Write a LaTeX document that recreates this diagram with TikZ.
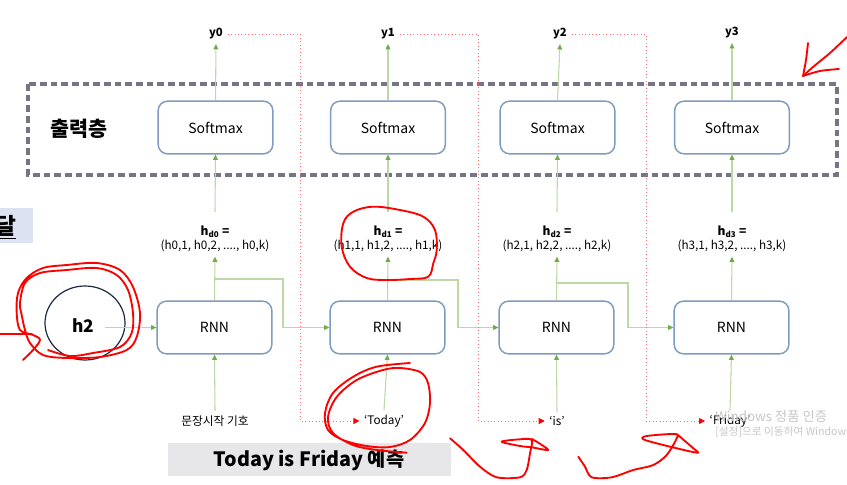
\documentclass[tikz,border=0pt]{standalone}
\usepackage{fontspec}
\setmainfont{Noto Sans CJK KR}
\usetikzlibrary{arrows.meta}
\definecolor{boxb}{HTML}{7E9BC0}
\definecolor{gline}{HTML}{BCD8A6}
\definecolor{garrow}{HTML}{70AD47}
\definecolor{rdot}{HTML}{FF6F73}
\definecolor{dashc}{HTML}{757585}
\definecolor{hand}{HTML}{FF0000}
\definecolor{ellb}{HTML}{1F2A44}
\definecolor{graybox}{HTML}{E7E6E8}
\definecolor{bluebox}{HTML}{DCE2F2}
\tikzset{
  cell/.style={draw=boxb, line width=1.1pt, rounded corners=7pt, minimum width=86pt, minimum height=39.5pt, fill=white, font=\fontsize{10.5}{12}\selectfont},
  garr/.style={draw=gline, line width=0.8pt, -{Triangle[length=4pt,width=3.6pt,color=garrow]}},
  rarr/.style={draw=rdot, line width=0.6pt, dotted, -{Triangle[length=4.5pt,width=4.5pt,color=hand]}},
  ylab/.style={font=\bfseries\fontsize{8.5}{10}\selectfont},
  hdt/.style={font=\bfseries\fontsize{9}{10}\selectfont},
  hdv/.style={font=\fontsize{8.8}{10}\selectfont},
  inlab/.style={font=\fontsize{8.8}{10}\selectfont},
  handline/.style={draw=hand, line width=1.4pt, line cap=round, line join=round},
}
\begin{document}
\begin{tikzpicture}[x=0.75pt,y=-0.75pt]
\useasboundingbox (0,0) rectangle (847,485);
\clip (0,0) rectangle (847,485);
\fill[white] (0,0) rectangle (847,485);

% side label box
\fill[bluebox] (0,208) rectangle (33,243);
\node[font=\bfseries\fontsize{17}{19}\selectfont, inner sep=0pt] (dal) at (6,227) {\underline{달}};

% dashed output layer
\draw[dashc, line width=2.3pt, dash pattern=on 5pt off 3pt] (28,84) rectangle (837,175);
\node[font=\bfseries\fontsize{15.5}{17}\selectfont] (outl) at (79,129) {출력층};

% softmax boxes
\node[cell] (s0) at (215.5,127.5) {Softmax};
\node[cell] (s1) at (388,127.5) {Softmax};
\node[cell] (s2) at (557.5,127.5) {Softmax};
\node[cell] (s3) at (732,127.5) {Softmax};

% RNN boxes
\node[cell] (r0) at (214.5,327.5) {RNN};
\node[cell] (r1) at (387.5,327.5) {RNN};
\node[cell] (r2) at (556.5,327.5) {RNN};
\node[cell] (r3) at (731.5,327.5) {RNN};

% outputs
\node[ylab] (y0) at (216,34) {y0};
\node[ylab] (y1) at (388,34) {y1};
\node[ylab] (y2) at (560,34) {y2};
\node[ylab] (y3) at (732,33) {y3};

% hidden labels
\node[hdt] (ht0) at (215,232) {h\textsubscript{d0} =};
\node[hdt] (ht1) at (388,232) {h\textsubscript{d1} =};
\node[hdt] (ht2) at (557,232) {h\textsubscript{d2} =};
\node[hdt] (ht3) at (732,232) {h\textsubscript{d3} =};
\node[hdv] (hv0) at (215,246) {(h0,1, h0,2, ...., h0,k)};
\node[hdv] (hv1) at (388,246) {(h1,1, h1,2, ...., h1,k)};
\node[hdv] (hv2) at (557,246) {(h2,1, h2,2, ...., h2,k)};
\node[hdv] (hv3) at (732,246) {(h3,1, h3,2, ...., h3,k)};

% inputs
\node[inlab] (in0) at (215,421) {문장시작 기호};
\node[inlab] (in1) at (384,421) {‘Today’};
\node[inlab] (in2) at (557,421) {‘is’};
\node[inlab] (in3) at (730,421) {‘Friday’};

% h2 ellipse
\draw[ellb, line width=0.9pt] (85,323) ellipse [x radius=40, y radius=37];
\node[font=\bfseries\fontsize{13}{15}\selectfont] (h2) at (83,326) {h2};
\coordinate (h2s) at (105,327.5);

% green arrows
\foreach \i in {0,1,2,3}{
  \draw[garr] (s\i.north) -- (y\i.south);
  \draw[garr] ([yshift=7pt]ht\i.north) -- (s\i.south);
  \draw[garr] (r\i.north) -- (hv\i.south);
  \draw[garr] (in\i.north) -- (r\i.south);
}
\draw[garr] (h2s) -- (r0.west);
\coordinate (b0) at (214.5,279); \coordinate (k0) at (283,279);
\coordinate (b1) at (387.5,280); \coordinate (k1) at (458,280);
\coordinate (b2) at (556.5,283); \coordinate (k2) at (628,283);
\draw[garr] (b0) -- (k0) |- (r1.west);
\draw[garr] (b1) -- (k1) |- (r2.west);
\draw[garr] (b2) -- (k2) |- (r3.west);

% red dotted feedback
\coordinate (c0) at (300,34); \coordinate (c1) at (478,34); \coordinate (c2) at (646,34);
\draw[rarr] (y0.east) -- (c0) |- (in1.west);
\draw[rarr] (y1.east) -- (c1) |- (in2.west);
\draw[rarr] (y2.east) -- (c2) |- (in3.west);

% bottom banner
\fill[graybox] (168,443) rectangle (451,476);
\node[font=\bfseries\fontsize{14.8}{16}\selectfont] (ban) at (309,460) {Today is Friday 예측};

% watermark
\node[anchor=west, text=black!22, font=\fontsize{10}{12}\selectfont, inner sep=0pt] (wm1) at (715,416) {Windows 정품 인증};
\node[anchor=west, text=black!22, font=\fontsize{8}{10}\selectfont, inner sep=0pt] (wm2) at (715,432) {[설정]으로 이동하여 Windows를 정품 인증합니다.};

% hand-drawn red annotations
\draw[handline] plot[smooth, tension=0.5] coordinates {(847,37) (830,53) (813,67) (803,76)};
\draw[handline] plot[smooth, tension=0.5] coordinates {(803,76) (806,60) (808,43)};
\draw[handline] plot[smooth, tension=0.5] coordinates {(803,76) (820,71) (839,69)};

\draw[handline] plot[smooth cycle, tension=0.6] coordinates {(386.7,280) (366.7,278) (350,266.7) (341.7,246.7) (343.3,223.3) (353.3,211.7) (373.3,206.7) (400,210) (423.3,216.7) (435,230) (436.7,250) (433.3,263.3) (428.3,276.7) (410,279)};

\draw[handline] plot[smooth, tension=0.55] coordinates {(23,360) (33,350) (40,340) (33,335) (20,330) (16.7,313) (18,293) (26.7,278) (43,268) (66.7,265) (96.7,263) (120,270) (133,287) (140,313) (136.7,337) (126.7,350) (100,357) (66.7,358) (43,355) (30,343) (25,330) (21.7,315) (20,303) (25,283) (40,273) (66.7,270) (96.7,268) (116.7,275) (128,290) (133,313) (131.7,333) (120,347) (93,353) (70,356) (48,350)};
\draw[handline] (0,334) -- (32,334);

\draw[handline] plot[smooth, tension=0.55] coordinates {(410,363) (376.7,366.7) (353.3,376.7) (333,393) (325,413) (328,430) (343,440) (366.7,446) (390,447) (410,440) (425,423) (430,403) (428,383) (420,372) (400,368) (383,370) (356.7,380) (336.7,397) (328,417) (333,433) (353,445) (376.7,450) (406.7,452.7)};

\draw[handline] plot[smooth, tension=0.5] coordinates {(450,438.3) (463.3,450) (480,466.7) (496.7,477.3) (520,477.3) (526.7,470) (530,453.3) (531.7,440) (520,439.3) (501.7,441.7) (520,446) (531.7,447.3) (548.3,450) (536.7,441.7) (531.7,439)};
\draw[handline] plot[smooth, tension=0.5] coordinates {(578.3,456.7) (585,466.7) (591.7,477.3) (611.7,477.3) (633.3,470) (653.3,465) (666.7,455) (676.7,438.3) (675,434) (646.7,436) (643.3,439.3) (663.3,445) (696.7,452.7) (693.3,448.3) (676.7,434)};
\end{tikzpicture}
\end{document}
